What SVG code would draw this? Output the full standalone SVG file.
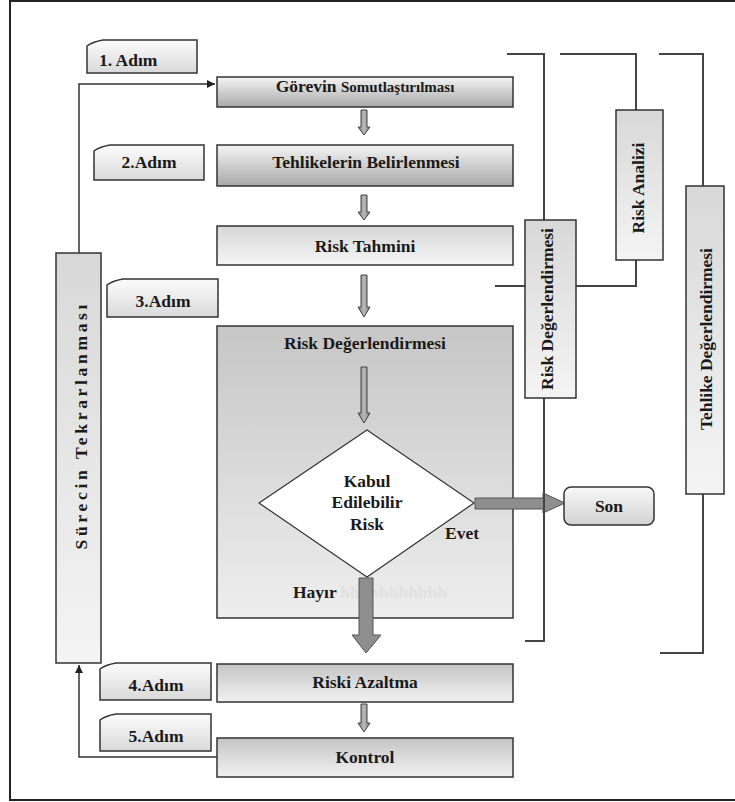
<svg xmlns="http://www.w3.org/2000/svg" width="735" height="802" viewBox="0 0 735 802">
<defs>
<style>
text{font-family:"Liberation Serif","Times New Roman",serif;font-weight:bold;font-size:17.5px;fill:#1a1a1a;}
.c{text-anchor:middle;}
.box{stroke:#333;stroke-width:1.5;}
.ln{fill:none;stroke:#333;stroke-width:1.5;}
.br{fill:none;stroke:#444;stroke-width:2;}
.sa{fill:url(#gArrow);stroke:#444;stroke-width:1;}
.ba{fill:#8e8e8e;stroke:#555;stroke-width:1;}
.faint{fill:#e1e1e1;}
</style>
<linearGradient id="gDark" x1="0" y1="0" x2="0" y2="1"><stop offset="0" stop-color="#f4f4f4"/><stop offset="1" stop-color="#a9a9a9"/></linearGradient>
<linearGradient id="gUp" x1="0" y1="0" x2="0" y2="1"><stop offset="0" stop-color="#d6d6d6"/><stop offset="1" stop-color="#f6f6f6"/></linearGradient>
<linearGradient id="gUp2" x1="0" y1="0" x2="0" y2="1"><stop offset="0" stop-color="#c4c4c4"/><stop offset="1" stop-color="#f2f2f2"/></linearGradient>
<linearGradient id="gStep" x1="0" y1="0" x2="0" y2="1"><stop offset="0" stop-color="#fcfcfc"/><stop offset="1" stop-color="#d9d9d9"/></linearGradient>
<linearGradient id="gBig" x1="0" y1="0" x2="0" y2="1"><stop offset="0" stop-color="#c6c6c6"/><stop offset="1" stop-color="#eeeeee"/></linearGradient>
<linearGradient id="gSon" x1="0" y1="0" x2="0" y2="1"><stop offset="0" stop-color="#f8f8f8"/><stop offset="1" stop-color="#d2d2d2"/></linearGradient>
<linearGradient id="gVert" x1="0" y1="0" x2="0" y2="1"><stop offset="0" stop-color="#d8d8d8"/><stop offset="1" stop-color="#f4f4f4"/></linearGradient>
<linearGradient id="gArrow" x1="0" y1="0" x2="1" y2="0"><stop offset="0" stop-color="#777"/><stop offset="0.5" stop-color="#bbb"/><stop offset="1" stop-color="#777"/></linearGradient>
<marker id="ah" viewBox="0 0 10 10" refX="10" refY="5" markerWidth="8" markerHeight="8" markerUnits="userSpaceOnUse" orient="auto"><path d="M0 0L10 5L0 10z" fill="#222"/></marker>
</defs>
<rect x="0" y="0" width="735" height="802" fill="#fff"/>
<rect x="10" y="1" width="740" height="799" fill="none" stroke="#222" stroke-width="2"/>

<g id="connectors">
<polyline class="ln" points="79,253 79,84 215,84" marker-end="url(#ah)"/>
<polyline class="ln" points="217,757 79,757 79,665" marker-end="url(#ah)"/>
<polyline class="br" points="507,54 544,54 544,641 525,641"/>
<polyline class="br" points="560,54 636,54 636,110"/>
<polyline class="br" points="636,260 636,286 495,286"/>
<polyline class="br" points="659,54 703,54 703,653 660,653"/>
</g>

<g id="step1"><path class="box" fill="url(#gStep)" d="M87 73V46Q92 42 103 40H197V73Z"/><text x="99" y="66">1. Adım</text></g>
<g id="step2"><path class="box" fill="url(#gStep)" d="M94 180V151Q99 147 110 145H204V180Z"/><text class="c" x="149" y="168">2.Adım</text></g>
<g id="step3"><path class="box" fill="url(#gStep)" d="M107 317V285Q112 281 123 279H218V317Z"/><text class="c" x="163" y="307">3.Adım</text></g>
<g id="step4"><path class="box" fill="url(#gStep)" d="M100 700V669Q105 665 116 663H211V700Z"/><text class="c" x="156" y="691">4.Adım</text></g>
<g id="step5"><path class="box" fill="url(#gStep)" d="M100 751V720Q105 716 116 714H211V751Z"/><text class="c" x="156" y="742">5.Adım</text></g>

<g id="gorevin"><rect class="box" x="217" y="77" width="296" height="30" fill="url(#gDark)"/><text class="c" x="365" y="92">Görevin <tspan font-size="15">Somutlaştırılması</tspan></text></g>
<g id="tehlikelerin"><rect class="box" x="217" y="145" width="296" height="41" fill="url(#gDark)"/><text class="c" x="366" y="168">Tehlikelerin Belirlenmesi</text></g>
<g id="risk-tahmini"><rect class="box" x="217" y="226" width="296" height="39" fill="url(#gUp)"/><text class="c" x="365" y="252">Risk Tahmini</text></g>

<g id="risk-degerlendirmesi-box">
<rect class="box" x="217" y="326" width="296" height="292" fill="url(#gBig)"/>
<text class="c" x="365" y="349">Risk Değerlendirmesi</text>
<text class="faint" x="340" y="598">hhhhhhhhhhh</text>
</g>

<g id="arrows-small">
<path class="sa" d="M361 110h6v17h3l-6 8l-6-8h3z"/>
<path class="sa" d="M361 195h6v17h3l-6 8l-6-8h3z"/>
<path class="sa" d="M361 275h6v32h3l-6 10l-6-10h3z"/>
<path class="sa" d="M361 367h6v46h3l-6 10l-6-10h3z"/>
<path class="sa" d="M361 704h6v19h3l-6 9l-6-9h3z"/>
</g>

<g id="decision">
<polygon points="367,430 474,503 367,577 259,503" fill="#fff" stroke="#333" stroke-width="1.2"/>
<text class="c" x="367" y="487">Kabul</text>
<text class="c" x="367" y="508">Edilebilir</text>
<text class="c" x="367" y="530">Risk</text>
</g>
<g id="evet-label"><text x="445" y="539">Evet</text></g>
<g id="hayir-label"><text x="293" y="598">Hayır</text></g>

<g id="big-arrows">
<path class="ba" d="M475 498H543V493L565 503L543 513V509H475Z"/>
<path class="ba" d="M359 578H373V635H381L366 653L352 635H359Z"/>
</g>
<line x1="544" y1="480" x2="544" y2="530" stroke="#444" stroke-width="2"/>

<g id="son"><rect class="box" x="564" y="487" width="90" height="38" rx="7" fill="url(#gSon)"/><text class="c" x="609" y="512">Son</text></g>

<g id="riski-azaltma"><rect class="box" x="217" y="664" width="296" height="38" fill="url(#gUp2)"/><text class="c" x="365" y="688">Riski Azaltma</text></g>
<g id="kontrol"><rect class="box" x="217" y="738" width="296" height="39" fill="url(#gUp2)"/><text class="c" x="365" y="763">Kontrol</text></g>

<g id="surecin"><rect class="box" x="56" y="253" width="45" height="410" fill="url(#gVert)"/><text class="c" transform="translate(87 427) rotate(-90)" x="0" y="0" textLength="245">Sürecin Tekrarlanması</text></g>
<g id="risk-degerlendirmesi-v"><rect class="box" x="525" y="220" width="51" height="178" fill="url(#gVert)"/><text class="c" transform="translate(553 309) rotate(-90)" x="0" y="0">Risk Değerlendirmesi</text></g>
<g id="risk-analizi"><rect class="box" x="616" y="110" width="47" height="150" fill="url(#gVert)"/><text class="c" transform="translate(644 188) rotate(-90)" x="0" y="0">Risk Analizi</text></g>
<g id="tehlike-degerlendirmesi"><rect class="box" x="686" y="186" width="38" height="308" fill="url(#gVert)"/><text class="c" transform="translate(712 339) rotate(-90)" x="0" y="0" font-size="14" textLength="182">Tehlike Değerlendirmesi</text></g>
</svg>
